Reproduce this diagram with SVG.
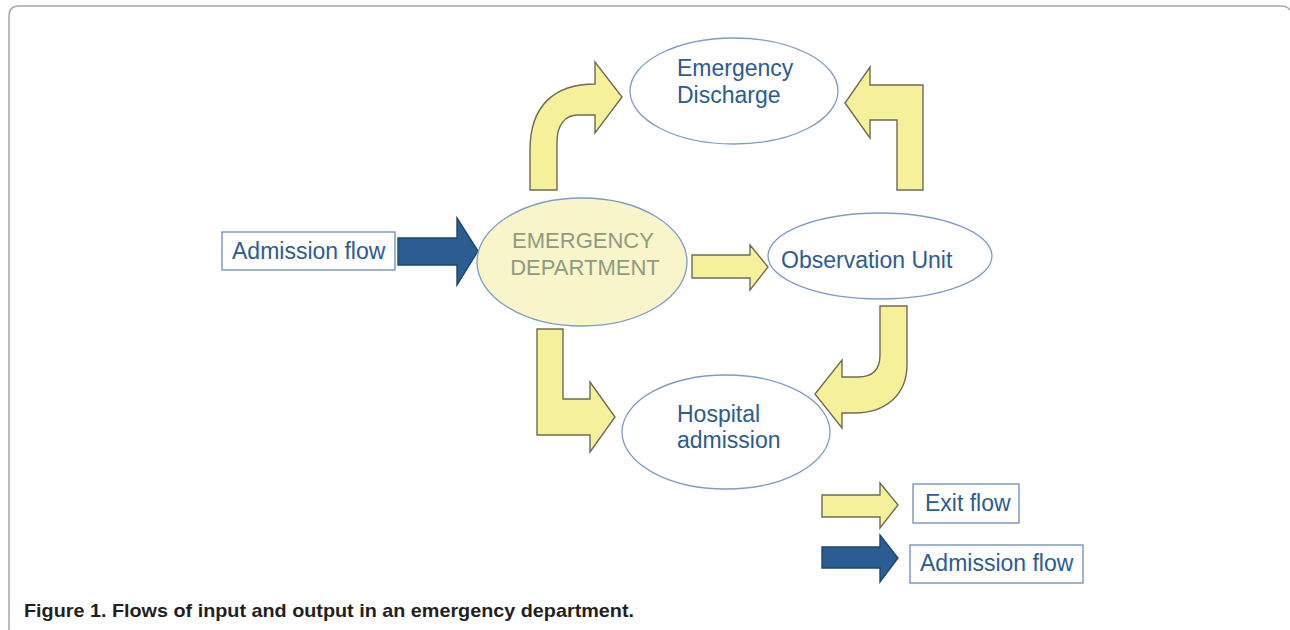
<svg xmlns="http://www.w3.org/2000/svg" width="1290" height="630" viewBox="0 0 1290 630">
<style>
.node{fill:#ffffff;stroke:#7f9cc2;stroke-width:1.3}
.lbl{font-family:"Liberation Sans",Arial,sans-serif;font-size:23px;fill:#2c5c92}
.ed{font-family:"Liberation Sans",Arial,sans-serif;font-size:22px;fill:#8e9b84;text-anchor:middle}
.box{fill:#ffffff;stroke:#5f84b0;stroke-width:1.2}
.ya{fill:#f5f09a;stroke:#6e6c55;stroke-width:1.4;stroke-linejoin:miter}
.ba{fill:#2b5d92;stroke:#1e466f;stroke-width:1.4}
.cap{font-family:"Liberation Sans",Arial,sans-serif;font-size:19px;font-weight:bold;fill:#231f20}
</style>
<rect width="1290" height="630" fill="#ffffff"/>
<path d="M9,630 V16 Q9,6 19,6 H1282 Q1287,6 1290,10" fill="none" stroke="#a8a8a8" stroke-width="1.5"/>

<g id="connectors">
  <path class="ba" d="M398,238 H457 V218 L478,251 L457,285 V265 H398 Z"/>
  <path class="ya" d="M530,190 V150 C530,105 555,84 595,84 V62 L622,97 L595,133 V115 H578 C565,115 557,125 557,142 V190 Z"/>
  <path class="ya" d="M923,190 V85 H870 V67 L845,103 L870,138 V120 H897 V190 Z"/>
  <path class="ya" d="M692,255 H750 V245 L768,267 L750,290 V278 H692 Z"/>
  <path class="ya" d="M537,329 H563 V399 H590 V382 L615,417 L590,452 V435 H537 Z"/>
  <path class="ya" d="M880,306 H907 V365 C907,395 885,413 855,413 H842 V428 L815,394 L842,360 V377 H858 C872,377 880,370 880,355 Z"/>
</g>

<g id="admission-flow-in">
  <rect class="box" x="222" y="232" width="173" height="38"/>
  <text class="lbl" x="232" y="259">Admission flow</text>
</g>

<g id="emergency-department">
  <ellipse cx="582" cy="262" rx="105" ry="64" fill="#f7f5c9" stroke="#7f9cc2" stroke-width="1.3"/>
  <text class="ed" x="583" y="248">EMERGENCY</text>
  <text class="ed" x="585" y="275">DEPARTMENT</text>
</g>

<g id="emergency-discharge">
  <ellipse class="node" cx="734" cy="91" rx="104" ry="53"/>
  <text class="lbl" x="677" y="76">Emergency</text>
  <text class="lbl" x="677" y="103">Discharge</text>
</g>

<g id="observation-unit">
  <ellipse class="node" cx="880" cy="256" rx="112" ry="43"/>
  <text class="lbl" x="781" y="268">Observation Unit</text>
</g>

<g id="hospital-admission">
  <ellipse class="node" cx="726" cy="432" rx="104" ry="57"/>
  <text class="lbl" x="677" y="422">Hospital</text>
  <text class="lbl" x="677" y="448">admission</text>
</g>

<g id="legend">
  <path class="ya" d="M822,495 H880 V483 L898,505 L880,528 V517 H822 Z"/>
  <rect class="box" x="913" y="484" width="106" height="39"/>
  <text class="lbl" x="925" y="511">Exit flow</text>
  <path class="ba" d="M822,547 H880 V535 L898,558 L880,582 V568 H822 Z"/>
  <rect class="box" x="910" y="545" width="173" height="38"/>
  <text class="lbl" x="920" y="571">Admission flow</text>
</g>

<text class="cap" x="24" y="617" textLength="610" lengthAdjust="spacingAndGlyphs">Figure 1. Flows of input and output in an emergency department.</text>
</svg>
